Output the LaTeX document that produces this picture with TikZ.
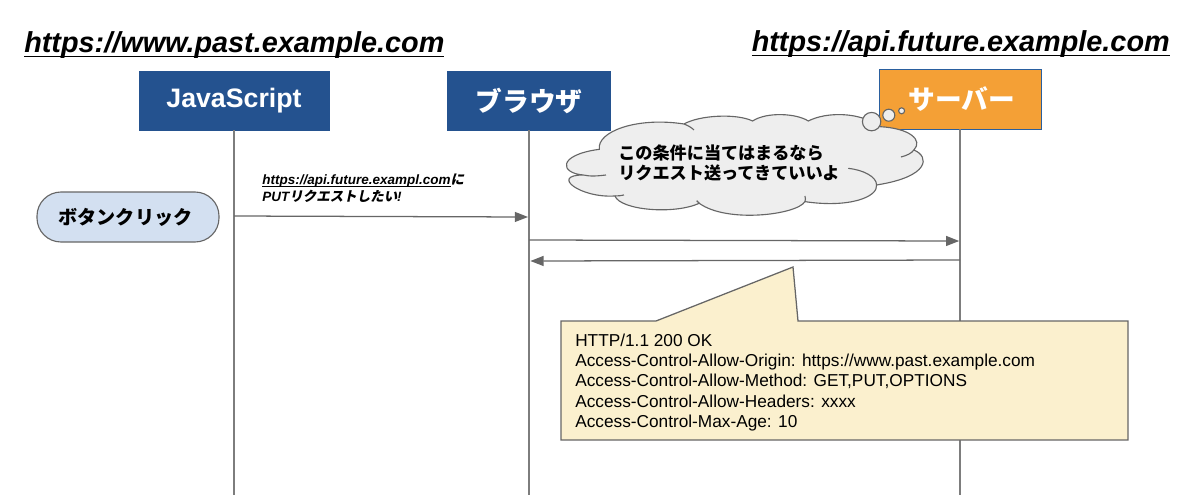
\documentclass[tikz,border=0pt]{standalone}
\usepackage{fontspec}
\setmainfont{Liberation Sans}
\newfontfamily\cjk{Noto Sans CJK JP}
\newfontfamily\cjkit[FakeSlant=0.2]{Noto Sans CJK JP}
\newcommand{\urlline}[3]{\sbox0{#3}\rlap{\usebox0}\rule[-#1]{\wd0}{#2}}
\usetikzlibrary{positioning,arrows.meta}
\definecolor{boxblue}{HTML}{24528F}
\definecolor{boxorange}{HTML}{F4A036}
\definecolor{edgeblue}{HTML}{2A5F9E}
\definecolor{linegray}{HTML}{666666}
\definecolor{clickblue}{HTML}{D3E0F1}
\definecolor{cloudgray}{HTML}{EEEEEE}
\definecolor{noteyellow}{HTML}{FBF0CE}
\tikzset{
  actor/.style={draw=#1,fill=#1,text=white,minimum height=1.475cm,inner sep=0pt,font=\fontsize{19}{22}\selectfont\bfseries},
  lifeline/.style={draw=linegray!85,line width=0.9pt},
  message/.style={draw=linegray,line width=0.9pt,-{Triangle[length=0.33cm,width=0.25cm]}},
  urltitle/.style={inner sep=0pt,font=\fontsize{20.5}{24}\selectfont\bfseries\itshape},
  bubble/.style={draw=linegray,fill=cloudgray,line width=0.8pt},
}
\begin{document}
\begin{tikzpicture}
\useasboundingbox (0,0) rectangle (30,-12.375);
\node[urltitle,anchor=west] (pasturl) at (0.6,-1.125) {\urlline{3.5pt}{1.3pt}{https://www.past.example.com}};
\node[urltitle,anchor=east] (futureurl) at (29.25,-1.1) {\urlline{3.5pt}{1.3pt}{https://api.future.example.com}};
\coordinate (jsend) at (5.85,-12.375);
\coordinate (browserend) at (13.225,-12.375);
\coordinate (serverend) at (24,-12.375);
\node[actor=boxblue,minimum width=4.75cm] (js) at (5.85,-2.5125) {JavaScript};
\node[actor=boxblue,minimum width=4.075cm] (browser) at (13.225,-2.5125) {\cjk\bfseries ブラウザ};
\node[actor=boxorange,draw=edgeblue,minimum width=4.05cm,minimum height=1.5cm] (server) at (24,-2.475) {\hspace*{0.1cm}\cjk\bfseries サーバー};
\draw[lifeline] (js) -- (jsend);
\draw[lifeline] (browser) -- (browserend);
\draw[lifeline] (server) -- (serverend);
\node[draw=linegray,fill=clickblue,line width=0.8pt,rounded corners=0.6cm,minimum width=4.55cm,minimum height=1.25cm,inner sep=0pt,font=\fontsize{13.6}{16}\cjk\bfseries] (click) at (3.2,-5.425) {ボタンクリック\hspace*{0.125cm}};
\node[anchor=west,align=left,inner sep=0pt,font=\fontsize{9.6}{12}\selectfont\bfseries\itshape] (wish) at (6.55,-4.71) {\urlline{1.5pt}{0.5pt}{https://api.future.exampl.com}{\cjkit\bfseries に}\\PUT{\cjkit\bfseries リクエストしたい}!};
\coordinate (jsout) at (5.85,-5.4);
\coordinate (browserin) at (13.2,-5.425);
\coordinate (browserout) at (13.225,-6);
\coordinate (serverin) at (23.98,-6.025);
\coordinate (serverout) at (24,-6.5);
\coordinate (browserback) at (13.26,-6.525);
\draw[message] (jsout) -- (browserin);
\draw[message] (browserout) -- (serverin);
\draw[message] (serverout) -- (browserback);
% cloud, traced
\begin{scope}[shift={(13.5,-1.5)},x=0.008333cm,y=-0.008333cm]
\draw[bubble] (178,268) .. controls (170,215) and (290,170) .. (432,192)
  .. controls (480,165) and (590,160) .. (638,183)
  .. controls (680,155) and (770,160) .. (805,183)
  .. controls (860,155) and (960,155) .. (1020,200)
  .. controls (1110,205) and (1150,240) .. (1122,270)
  .. controls (1170,290) and (1170,350) .. (1010,375)
  .. controls (1015,410) and (930,445) .. (795,425)
  .. controls (770,465) and (560,490) .. (478,430)
  .. controls (400,465) and (240,450) .. (225,408)
  .. controls (120,415) and (30,345) .. (130,345)
  .. controls (60,340) and (50,285) .. cycle;
\draw[bubble,fill=none] (432,192) .. controls (445,197) and (455,203) .. (462,210);
\draw[bubble,fill=none] (1122,270) .. controls (1115,280) and (1100,287) .. (1083,291);
\draw[bubble,fill=none] (1010,375) .. controls (1010,350) and (970,330) .. (925,325);
\draw[bubble,fill=none] (795,425) .. controls (797,420) and (797,415) .. (795,408);
\draw[bubble,fill=none] (478,430) .. controls (475,427) and (472,425) .. (470,422);
\draw[bubble,fill=none] (225,408) .. controls (235,408) and (245,407) .. (252,405);
\draw[bubble,fill=none] (130,345) .. controls (150,350) and (175,348) .. (198,345);
\end{scope}
\node[bubble,circle,minimum size=0.46cm,inner sep=0pt] (puffbig) at (21.79,-3.04) {};
\node[bubble,circle,minimum size=0.3cm,inner sep=0pt] (puffmid) at (22.22,-2.88) {};
\node[bubble,circle,minimum size=0.15cm,inner sep=0pt] (puffsmall) at (22.54,-2.77) {};
\node[anchor=west,align=left,inner sep=0pt,font=\fontsize{12.2}{14.2}\cjk\bfseries] (condition) at (15.45,-4.06) {この条件に当てはまるなら\\リクエスト送ってきていいよ};
% response note
\draw[draw=linegray,fill=noteyellow,line width=0.9pt] (14.025,-8.025) -- (16.4,-8.025) -- (19.825,-6.675) -- (19.95,-8.025) -- (28.2,-8.025) -- (28.2,-11) -- (14.025,-11) -- cycle;
\node[anchor=west,align=left,inner sep=0pt,font=\fontsize{12.27}{14.4}\selectfont] (headers) at (14.375,-9.56) {HTTP/1.1 200 OK\\Access-Control-Allow-Origin: https://www.past.example.com\\Access-Control-Allow-Method: GET,PUT,OPTIONS\\Access-Control-Allow-Headers: xxxx\\Access-Control-Max-Age: 10};
\end{tikzpicture}
\end{document}
